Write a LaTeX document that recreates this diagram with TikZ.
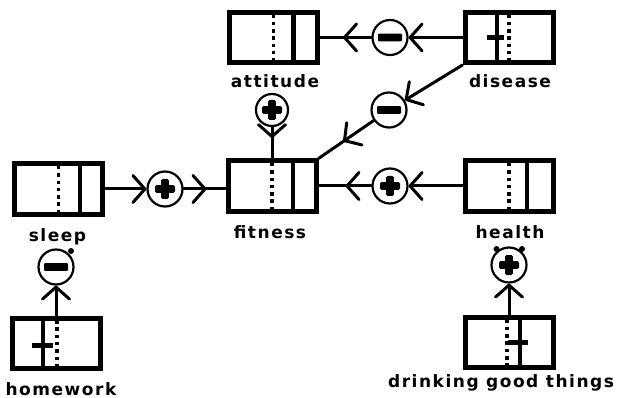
\documentclass[tikz,border=0pt]{standalone}
\usepackage{fontspec}
\newfontfamily\lblfont{DejaVu Sans}[LetterSpace=9]
\usetikzlibrary{arrows.meta,decorations.markings,calc}
\begin{document}
\begin{tikzpicture}[x=1pt,y=-1pt,
  chev/.tip={Straight Barb[length=12pt,width=27pt,round]},
  stock/.style={draw,line width=5pt,minimum width=88pt,minimum height=50pt,inner sep=0pt},
  dotline/.style={line width=3.5pt,dash pattern=on 3.5pt off 3.8pt},
  level/.style={line width=4.5pt},
  bar/.style={line width=5pt},
  lbl/.style={font=\lblfont\bfseries\fontsize{17}{17}\selectfont,inner sep=0pt,anchor=base},
  conn/.style={line width=3pt,line cap=round,line join=round},
  midchev/.style={postaction={decorate},decoration={markings,mark=at position #1 with {\arrow{chev}}}},
  circ/.style={circle,draw,line width=2.2pt,minimum size=35pt,inner sep=0pt},
  pluscirc/.style={circ,path picture={
     \fill[rounded corners=1.5pt] ($(path picture bounding box.center)+(-3.8,-10)$) rectangle ++(7.6,20);
     \fill[rounded corners=1.5pt] ($(path picture bounding box.center)+(-10,-3.8)$) rectangle ++(20,7.6);}},
  minuscirc/.style={circ,path picture={
     \fill[rounded corners=1pt] ($(path picture bounding box.center)+(-12,-3.8)$) rectangle ++(24,7.6);}},
  ear/.style={fill=black}
]
\useasboundingbox (0,0) rectangle (618,398);

% stocks
\node[stock] (attitude) at (273.5,37.5) {};
\node[stock] (disease)  at (509,37.5) {};
\node[stock] (sleep)    at (58.5,189) {};
\node[stock] (fitness)  at (272,186) {};
\node[stock] (health)   at (509,186) {};
\node[stock] (homework) at (56,343) {};
\node[stock] (drinking) at (509,342.5) {};

% interior dividers
\foreach \n/\s in {attitude/20,sleep/21.5,fitness/21,health/18}{
  \draw[dotline] ($(\n.center)+(0,-23)$) -- ++(0,46);
  \draw[level] ($(\n.center)+(\s,-25)$) -- ++(0,50);
}
\draw[dotline] ($(disease.center)+(0,-23)$) -- ++(0,46);
\draw[level] ($(disease.center)+(-12,-25)$) -- ++(0,50);
\draw[bar] ($(disease.center)+(-22,0)$) -- ++(17,0);
\draw[dotline] ($(homework.center)+(1,-23)$) -- ++(0,46);
\draw[level] ($(homework.center)+(-13,-25)$) -- ++(0,50);
\draw[bar] ($(homework.center)+(-24,2)$) -- ++(21,0);
\draw[dotline] ($(drinking.center)+(-2,-23)$) -- ++(0,46);
\draw[level] ($(drinking.center)+(11,-25)$) -- ++(0,50);
\draw[bar] ($(drinking.center)+(-1,0)$) -- ++(20,0);

% labels
\node[lbl] (lattitude) at (275,88) {attitude};
\node[lbl] (ldisease)  at (510,88) {disease};
\node[lbl] (lsleep)    at (57.5,241) {sleep};
\node[lbl] (lfitness)  at (270,238) {fitness};
\node[lbl] (lhealth)   at (510,238) {health};
\node[lbl] (lhomework) at (61,395) {homework};
\node[lbl] (ldrinking) at (501,387) {drinking good things};

% influence circles
\node[minuscirc] (m1) at (390,37.5) {};
\node[minuscirc] (m2) at (389,110) {};
\node[pluscirc,minimum size=32pt] (p1) at (272,110) {};
\node[pluscirc] (p2) at (165,189) {};
\node[pluscirc] (p3) at (390,186) {};
\node[minuscirc] (m3) at (56,267) {};
\node[pluscirc] (p4) at (509,265) {};

% ears
\fill[ear] ($(m3.center)+(15,-16)$) circle (3);
\fill[ear] ($(p4.center)+(-12.5,-16)$) circle (3);
\fill[ear] ($(p4.center)+(13,-16)$) circle (3);

% connectors
\draw[conn,-chev] (disease.west) -- (m1.east);
\draw[conn,midchev=-23pt] (m1.west) -- (m1.west -| attitude.east);
\draw[conn,-chev] (disease.south west) -- (m2);
\draw[conn,midchev=-30pt] (m2) -- (fitness.north east);
\draw[conn,midchev=11pt] (p1) -- (fitness.north);
\draw[conn,-chev] (sleep.east) -- (p2.west);
\draw[conn,midchev=-19pt] (p2.east) -- (p2.east -| fitness.west);
\draw[conn,-chev] (health.west) -- (p3.east);
\draw[conn,midchev=-27pt] (p3.west) -- (p3.west -| fitness.east);
\draw[conn,-chev] (homework.north) -- (m3);
\draw[conn,-chev] (drinking.north) -- (p4);
\end{tikzpicture}
\end{document}
